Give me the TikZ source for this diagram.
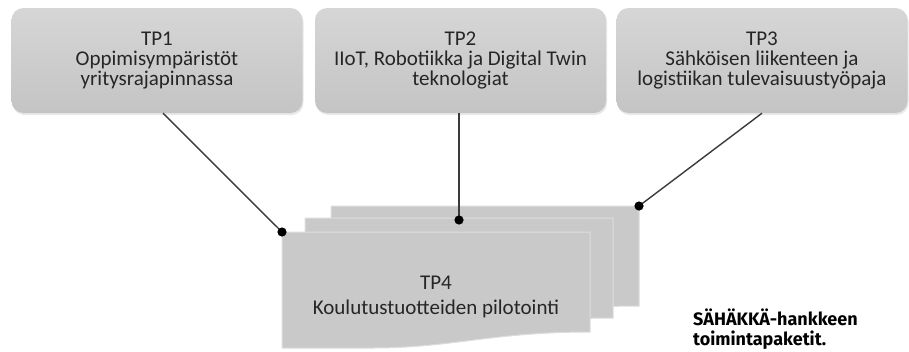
\documentclass[tikz,border=0pt]{standalone}
\usepackage{fontspec}
\setmainfont{Carlito}
\newfontfamily\captionfont{Fira Sans}
\usetikzlibrary{shadows}
\definecolor{boxtop}{HTML}{D6D6D6}
\definecolor{boxbot}{HTML}{C4C4C4}
\definecolor{pagefill}{HTML}{C9C9C9}
\definecolor{pageedge}{HTML}{DDDDDD}
\definecolor{inktext}{HTML}{262626}
\definecolor{linkline}{HTML}{3A3A3A}
\tikzset{
  wpbox/.style={rounded corners=12pt, minimum width=291pt, minimum height=105pt,
    top color=boxtop, bottom color=boxbot, draw=none, align=center,
    text=inktext, font=\fontsize{21}{20}\selectfont,
    drop shadow={shadow xshift=1pt, shadow yshift=-2pt, opacity=0.18}},
  pagestyle/.style={fill=pagefill, draw=pageedge, line width=1pt},
  link/.style={draw=linkline, line width=1.4pt},
  docpage/.pic={
    \path[pagestyle] (0,0) -- (308,0) -- (308,100)
      .. controls (210,100) and (170,116) .. (90,116) -- (0,116) -- cycle;
    \coordinate (-nw) at (0,0);
    \coordinate (-ne) at (308,0);
  }
}
\begin{document}
\begin{tikzpicture}[x=1pt, y=-1pt]
  \useasboundingbox (0,0) rectangle (909,351);

  % work package boxes
  \node[wpbox] (tp1) at (157,60.5) {\rule{0pt}{6pt}TP1\\Oppimisympäristöt\\yritysrajapinnassa};
  \node[wpbox] (tp2) at (460.5,60.5) {\rule{0pt}{6pt}TP2\\IIoT, Robotiikka ja Digital Twin\\teknologiat};
  \node[wpbox] (tp3) at (762,60.5) {\rule{0pt}{6pt}TP3\\Sähköisen liikenteen ja\\logistiikan tulevaisuustyöpaja};

  % stack of pages for TP4
  \pic (back) at (331,206) {docpage};
  \pic (mid) at (305,218) {docpage};
  \pic (front) at (282,232) {docpage};
  \node[align=center, text=inktext, font=\fontsize{21}{25}\selectfont] (tp4) at (436,297)
    {TP4\\Koulutustuotteiden pilotointi};

  % connector ends
  \coordinate (d1) at (front-nw);
  \coordinate (d2) at (459,220);
  \coordinate (d3) at (back-ne);

  \draw[link] ([xshift=6pt]tp1.south) -- (d1);
  \draw[link] (tp2.south -| d2) -- (d2);
  \draw[link] (tp3.south) -- (d3);
  \foreach \d in {d1,d2,d3} \fill[black] (\d) circle[radius=4.6pt];

  % caption
  \node[anchor=north west, align=left, inner sep=0pt,
        font=\captionfont\bfseries\fontsize{18}{20}\selectfont] (cap) at (693,309)
    {SÄHÄKKÄ-hankkeen\\toimintapaketit.};
\end{tikzpicture}
\end{document}
